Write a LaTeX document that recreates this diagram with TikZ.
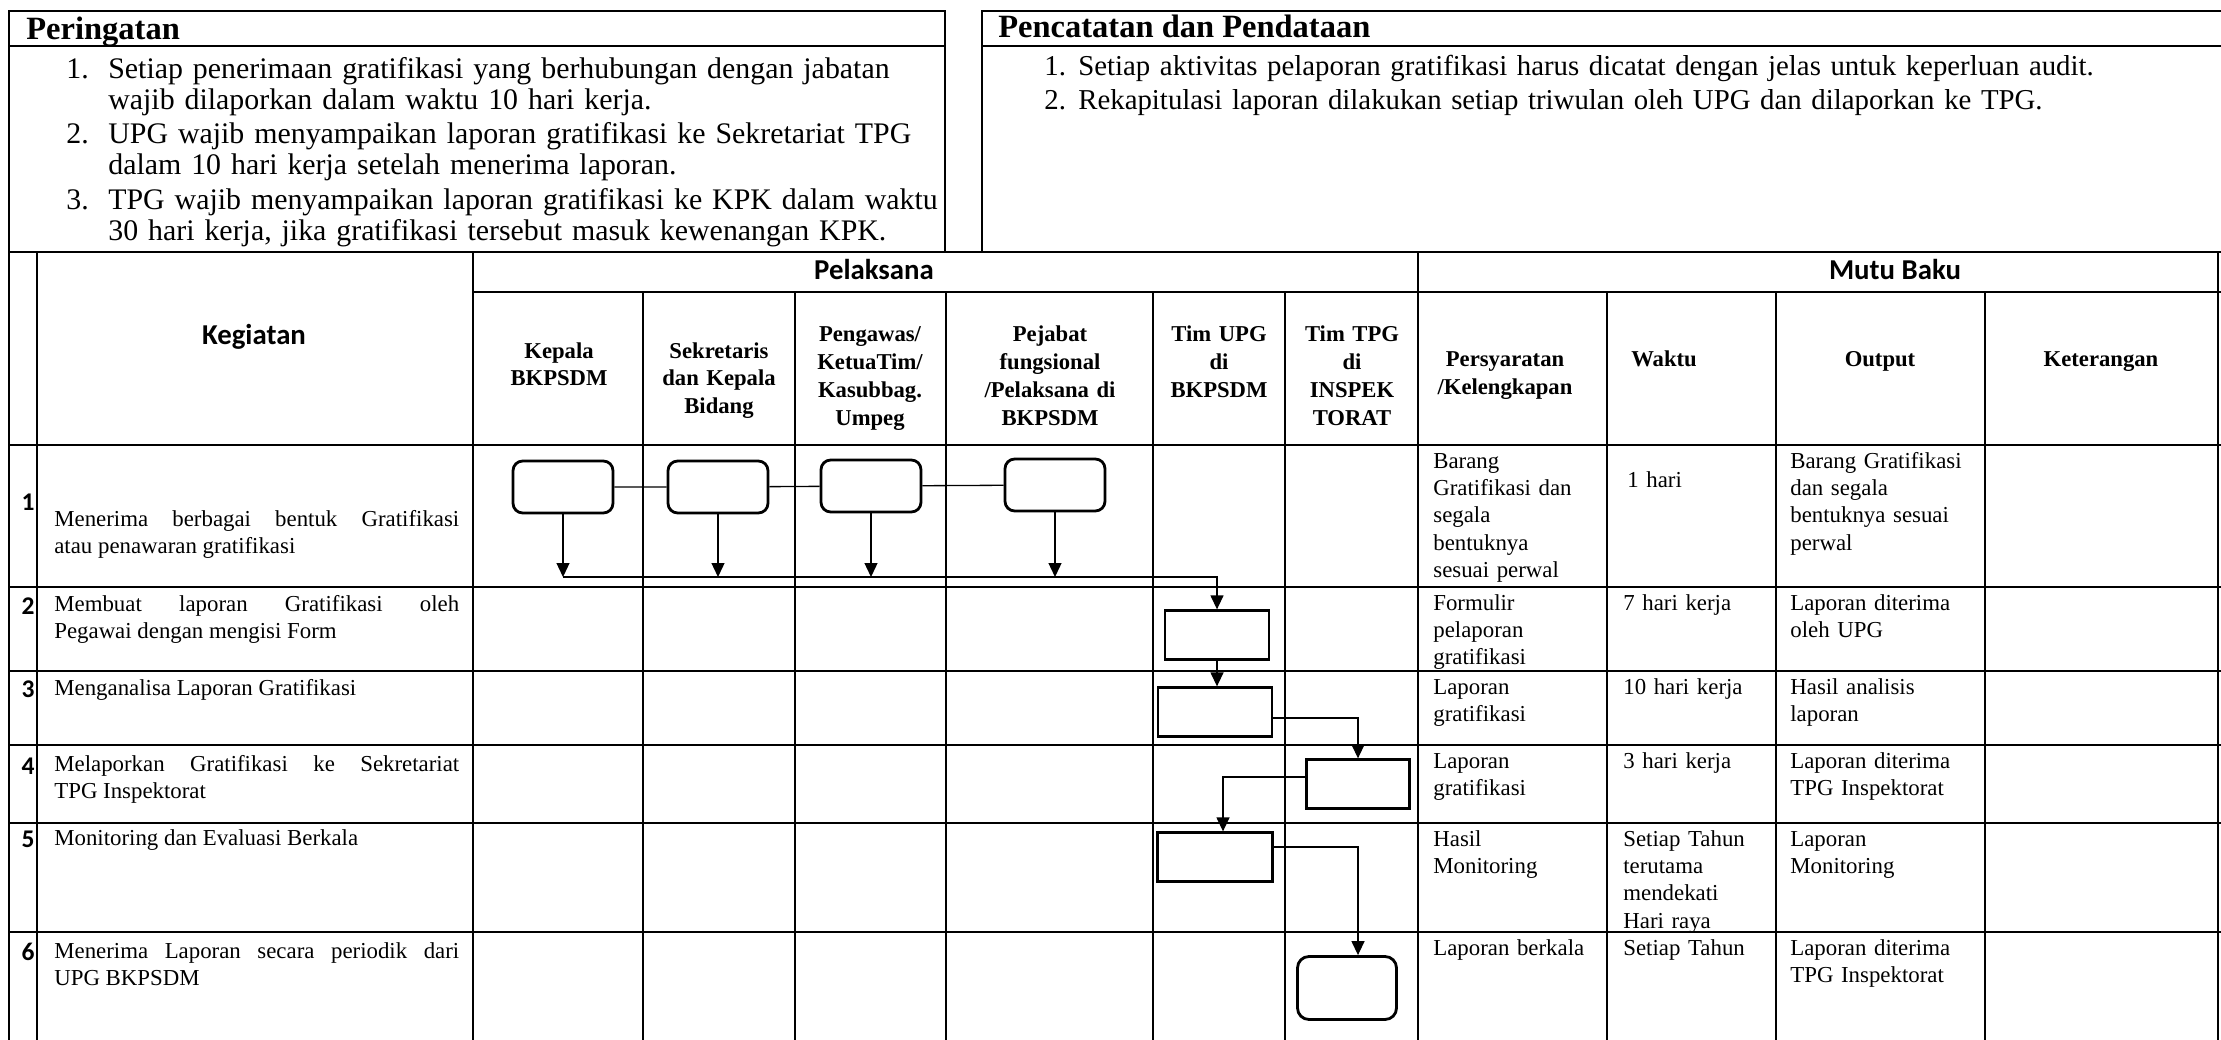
\documentclass[tikz,border=0pt]{standalone}
\usepackage{fontspec}
\setmainfont{Liberation Serif}
\newfontfamily\calibri{Carlito}
\usetikzlibrary{arrows.meta,positioning,calc}

\begin{document}
\begin{tikzpicture}[x=0.02cm, y=-0.02cm,
    font=\fontsize{13}{15.6}\selectfont,
    grid/.style={line width=0.9pt},
    actv/.style={draw, line width=1.6pt, rounded corners=5.5pt, inner sep=0pt,
      minimum width=2cm, minimum height=1.04cm},
    proc/.style={draw, line width=1.6pt, inner sep=0pt, minimum height=0.97cm},
    lnk/.style={line width=0.75pt},
    arr/.style={lnk, -{Triangle[length=2.8mm, width=2.6mm]}},
    title/.style={font=\fontsize{18.5}{20}\selectfont\bfseries, anchor=base west, inner sep=0pt},
    pnt/.style={font=\fontsize{17}{17.6}\selectfont, anchor=base west, inner sep=0pt},
    pnttxt/.style={pnt, text width=#1, align=left},
    cnt/.style={font=\fontsize{16.4}{17.6}\selectfont, anchor=base west, inner sep=0pt},
    cnttxt/.style={cnt, text width=#1, align=left},
    colhd/.style={font=\calibri\fontsize{16.4}{18}\selectfont\bfseries, anchor=base, inner sep=0pt},
    subhd/.style={font=\fontsize{12.9}{15.9}\selectfont\bfseries, anchor=base, inner sep=0pt,
      align=center, text width=#1},
    rownum/.style={font=\calibri\fontsize{14.5}{16}\selectfont\bfseries, anchor=base, inner sep=0pt},
    keg/.style={anchor=base west, inner sep=0pt, text width=8.1cm, align=justify},
    cell/.style={anchor=base west, inner sep=0pt, text width=#1, align=left},
  ]
  \useasboundingbox (0,0) rectangle (2221,1040);

  % --- top: notes ---
  \draw[grid] (9,11) rectangle (945,252);
  \draw[grid] (9,46) -- (945,46);
  \draw[grid] (2221,11) -- (982,11) -- (982,252);
  \draw[grid] (982,46) -- (2221,46);
  \node[title] (tperi) at (26,40) {Peringatan};
  \node[title] (tcat) at (998,38) {Pencatatan dan Pendataan};
  \node[pnt] (pn1) at (66,79) {1.};
  \node[pnttxt=18cm] (pt1) at (108,79) {Setiap penerimaan gratifikasi yang berhubungan dengan jabatan\\wajib dilaporkan dalam waktu 10 hari kerja.};
  \node[pnt] (pn2) at (66,144) {2.};
  \node[pnttxt=18cm] (pt2) at (108,144) {UPG wajib menyampaikan laporan gratifikasi ke Sekretariat TPG\\dalam 10 hari kerja setelah menerima laporan.};
  \node[pnt] (pn3) at (66,210) {3.};
  \node[pnttxt=18cm] (pt3) at (108,210) {TPG wajib menyampaikan laporan gratifikasi ke KPK dalam waktu\\30 hari kerja, jika gratifikasi tersebut masuk kewenangan KPK.};
  \node[cnt] (cn1) at (1044,76) {1.};
  \node[cnttxt=22.4cm] (ct1) at (1078,76) {Setiap aktivitas pelaporan gratifikasi harus dicatat dengan jelas untuk keperluan audit.};
  \node[cnt] (cn2) at (1044,110) {2.};
  \node[cnttxt=22.4cm] (ct2) at (1078,110) {Rekapitulasi laporan dilakukan setiap triwulan oleh UPG dan dilaporkan ke TPG.};

  % --- table grid ---
  \draw[grid] (9,252) -- (2221,252);
  \draw[grid] (473,292) -- (2221,292);
  \foreach \yy in {445,587,671,745,823,932}
    \draw[grid] (9,\yy) -- (2221,\yy);
  \foreach \xx in {9,37,473,1418,2218}
    \draw[grid] (\xx,252) -- (\xx,1040);
  \foreach \xx in {643,795,946,1153,1285,1607,1776,1985}
    \draw[grid] (\xx,292) -- (\xx,1040);

  % --- table heads ---
  \node[colhd] (hkeg) at (254,345) {Kegiatan};
  \node[colhd] (hpel) at (874,280) {Pelaksana};
  \node[colhd] (hmut) at (1895,280) {Mutu Baku};
  \node[subhd=3.2cm] (hkep) at (559,358) {Kepala\\BKPSDM};
  \node[subhd=3cm] (hsek) at (719,358) {Sekretaris\\dan Kepala\\Bidang};
  \node[subhd=3cm] (hpen) at (870,342) {Pengawas/\\KetuaTim/\\Kasubbag.\\Umpeg};
  \node[subhd=4cm] (hpej) at (1050,342) {Pejabat\\fungsional\\/Pelaksana di\\BKPSDM};
  \node[subhd=2.6cm] (hupg) at (1219,342) {Tim UPG\\di\\BKPSDM};
  \node[subhd=2.6cm] (htpg) at (1352,342) {Tim TPG\\di\\INSPEK\\TORAT};
  \node[subhd=3.7cm] (hsya) at (1505,367) {Persyaratan\\/Kelengkapan};
  \node[subhd=3.3cm] (hwak) at (1664,367) {Waktu};
  \node[subhd=4cm] (hout) at (1880,367) {Output};
  \node[subhd=4.5cm] (hket) at (2101,367) {Keterangan};

  % --- rows: number and activity ---
  \node[rownum] (n1) at (28,510) {1};
  \node[rownum] (n2) at (28,614) {2};
  \node[rownum] (n3) at (28,697) {3};
  \node[rownum] (n4) at (28,774) {4};
  \node[rownum] (n5) at (28,847) {5};
  \node[rownum] (n6) at (28,960) {6};
  \node[keg] (k1) at (54,526) {Menerima berbagai bentuk Gratifikasi\linebreak atau penawaran gratifikasi};
  \node[keg] (k2) at (54,611) {Membuat laporan Gratifikasi oleh\linebreak Pegawai dengan mengisi Form};
  \node[keg] (k3) at (54,695) {Menganalisa Laporan Gratifikasi};
  \node[keg] (k4) at (54,771) {Melaporkan Gratifikasi ke Sekretariat\linebreak TPG Inspektorat};
  \node[keg] (k5) at (54,845) {Monitoring dan Evaluasi Berkala};
  \node[keg] (k6) at (54,958) {Menerima Laporan secara periodik dari\linebreak UPG BKPSDM};

  % --- rows: mutu baku ---
  \node[cell=3.5cm] (s1) at (1433,468) {Barang\\Gratifikasi dan\\segala\\bentuknya\\sesuai perwal};
  \node[cell=3.5cm] (s2) at (1433,610) {Formulir\\pelaporan\\gratifikasi};
  \node[cell=3.5cm] (s3) at (1433,694) {Laporan\\gratifikasi};
  \node[cell=3.5cm] (s4) at (1433,768) {Laporan\\gratifikasi};
  \node[cell=3.5cm] (s5) at (1433,846) {Hasil\\Monitoring};
  \node[cell=3.5cm] (s6) at (1433,955) {Laporan berkala};
  \node[cell=3cm] (w1) at (1627,487) {1 hari};
  \node[cell=3cm] (w2) at (1623,610) {7 hari kerja};
  \node[cell=3cm] (w3) at (1623,694) {10 hari kerja};
  \node[cell=3cm] (w4) at (1623,768) {3 hari kerja};
  \node[cell=3cm] (w5) at (1623,846) {Setiap Tahun\\terutama\\mendekati\\Hari raya};
  \node[cell=3cm] (w6) at (1623,955) {Setiap Tahun};
  \node[cell=3.8cm] (o1) at (1790,468) {Barang Gratifikasi\\dan segala\\bentuknya sesuai\\perwal};
  \node[cell=3.8cm] (o2) at (1790,610) {Laporan diterima\\oleh UPG};
  \node[cell=3.8cm] (o3) at (1790,694) {Hasil analisis\\laporan};
  \node[cell=3.8cm] (o4) at (1790,768) {Laporan diterima\\TPG Inspektorat};
  \node[cell=3.8cm] (o5) at (1790,846) {Laporan\\Monitoring};
  \node[cell=3.8cm] (o6) at (1790,955) {Laporan diterima\\TPG Inspektorat};

  % --- flow symbols ---
  \node[actv] (b1) at (563,487) {};
  \node[actv] (b2) at (718,487) {};
  \node[actv] (b3) at (871,486) {};
  \node[actv] (b4) at (1055,485) {};
  \node[proc, minimum width=2.08cm] (r2) at (1217,635) {};
  \node[proc, minimum width=2.28cm] (r3) at (1215,712) {};
  \node[proc, minimum width=2.06cm] (r4) at (1358,784) {};
  \node[proc, minimum width=2.3cm] (r5) at (1215,857) {};
  \node[actv, rounded corners=6.5pt, minimum width=1.98cm, minimum height=1.26cm] (b6) at (1347,988) {};

  \coordinate (j0) at (1217,577);
  \coordinate (j1) at (1358,718);
  \coordinate (j2) at (1223,777);
  \coordinate (j3) at (1358,847);
  \draw[lnk] (b1) -- (b2) -- (b3) -- (b4);
  \draw[arr] (b1.south) -- (b1.south |- j0);
  \draw[arr] (b2.south) -- (b2.south |- j0);
  \draw[arr] (b3.south) -- (b3.south |- j0);
  \draw[arr] (b4.south) -- (b4.south |- j0);
  \draw[arr] (b1.south |- j0) -- (j0) -- (r2.north);
  \draw[arr] (r2.south) -- (r2.south |- r3.north);
  \draw[arr] (r3.east |- j1) -- (j1) -- (r4.north);
  \draw[arr] (r4.west |- j2) -- (j2) -- (j2 |- r5.north);
  \draw[arr] (r5.east |- j3) -- (j3) -- (j3 |- b6.north);
\end{tikzpicture}
\end{document}
